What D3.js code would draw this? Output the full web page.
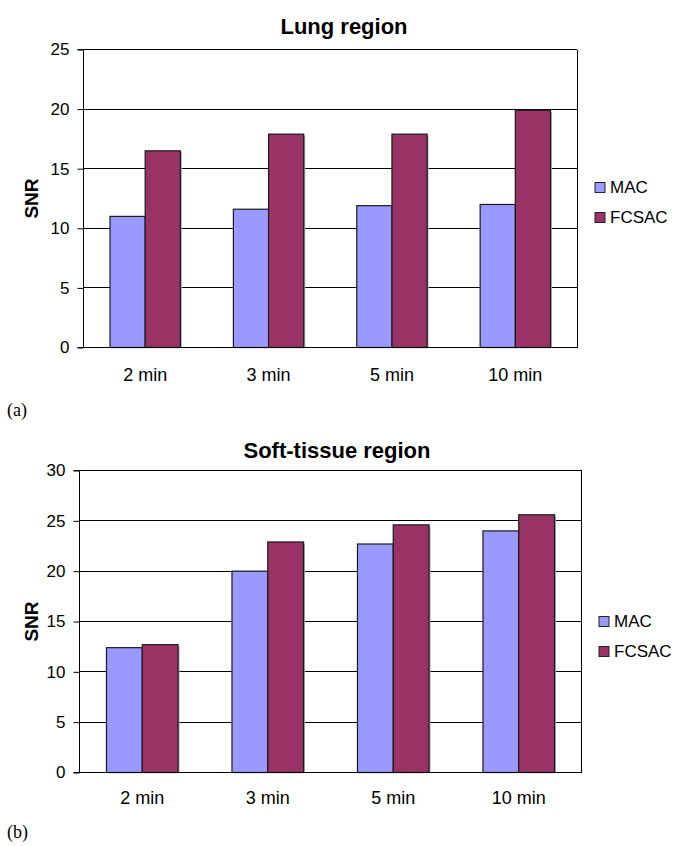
<!DOCTYPE html>
<html>
<head>
<meta charset="utf-8">
<script src="https://cdn.jsdelivr.net/npm/d3@7"></script>
<style>
  html, body { margin: 0; padding: 0; background: #fff; }
  svg { display: block; }
</style>
</head>
<body>
<svg id="chart" width="677" height="846"></svg>
<script>
// ---- data ----
const categories = ["2 min", "3 min", "5 min", "10 min"];
const seriesNames = ["MAC", "FCSAC"];
const lungMAC = [11.0, 11.6, 11.9, 12.0];
const lungFCSAC = [16.5, 17.9, 17.9, 19.9];
const softMAC = [12.4, 20.0, 22.7, 24.0];
const softFCSAC = [12.7, 22.9, 24.6, 25.6];
const lungTicks = [0, 5, 10, 15, 20, 25];
const softTicks = [0, 5, 10, 15, 20, 25, 30];
const titles = ["Lung region", "Soft-tissue region"];
const panelLabels = ["(a)", "(b)"];
const yLabel = "SNR";

const colors = ["#9999FF", "#993366"];
const sans = "'Liberation Sans', Arial, Helvetica, sans-serif";
const serif = "'Liberation Serif', 'Times New Roman', serif";

const svg = d3.select("#chart");

function drawChart(cfg) {
  const { left, right, top, bottom, series, ticks, title, titleX, titleY,
          legendX, legendY, panel, panelY, xLabelDy } = cfg;
  const g = svg.append("g");

  const x = d3.scaleBand().domain(categories).range([left, right])
    .paddingInner(0.43).paddingOuter(0.215);
  const xs = d3.scaleBand().domain(seriesNames).range([0, x.bandwidth()]);
  const y = d3.scaleLinear().domain([ticks[0], ticks[ticks.length - 1]]).range([bottom, top]);

  // gridlines
  g.append("g").selectAll("line").data(ticks.slice(1)).join("line")
    .attr("x1", left).attr("x2", right)
    .attr("y1", d => y(d)).attr("y2", d => y(d))
    .attr("stroke", "#000").attr("stroke-width", 1)
    .attr("shape-rendering", "crispEdges");

  // right border
  g.append("line").attr("x1", right).attr("x2", right).attr("y1", top).attr("y2", bottom)
    .attr("stroke", "#000").attr("shape-rendering", "crispEdges");

  // bars
  const rows = categories.map((c, i) => ({ c, vals: series.map((s, j) => ({ name: seriesNames[j], v: s[i], j })) }));
  const grp = g.append("g").selectAll("g").data(rows).join("g")
    .attr("transform", d => `translate(${x(d.c)},0)`);
  // shadow
  grp.selectAll("rect.sh").data(d => d.vals).join("rect").attr("class", "sh")
    .attr("x", d => xs(d.name) + 1.5).attr("y", d => y(d.v) + 1.5)
    .attr("width", xs.bandwidth()).attr("height", d => bottom - y(d.v) - 1.5)
    .attr("fill", "#aaa");
  grp.selectAll("rect.bar").data(d => d.vals).join("rect").attr("class", "bar")
    .attr("x", d => xs(d.name)).attr("y", d => y(d.v))
    .attr("width", xs.bandwidth()).attr("height", d => bottom - y(d.v))
    .attr("fill", d => colors[d.j]).attr("stroke", "#1a1a1a").attr("stroke-width", 1.2);

  // y axis
  const yAxis = d3.axisLeft(y).tickValues(ticks).tickSize(6).tickPadding(8).tickFormat(d3.format("d"));
  const ya = g.append("g").attr("transform", `translate(${left},0)`).call(yAxis);
  ya.select(".domain").attr("stroke", "#000").attr("d", `M-6,${top}H0V${bottom}H-6`);
  ya.selectAll(".tick line").attr("stroke", "#000");
  ya.selectAll("text").attr("font-family", sans).attr("font-size", 17).attr("fill", "#000");

  // x axis line (bottom)
  g.append("line").attr("x1", left).attr("x2", right).attr("y1", bottom).attr("y2", bottom)
    .attr("stroke", "#000").attr("stroke-width", 1.2);

  // x labels
  g.append("g").selectAll("text").data(categories).join("text")
    .attr("x", d => x(d) + x.bandwidth() / 2).attr("y", bottom + xLabelDy)
    .attr("text-anchor", "middle").attr("font-family", sans).attr("font-size", 18)
    .text(d => d);

  // title
  g.append("text").attr("x", titleX).attr("y", titleY).attr("text-anchor", "middle")
    .attr("font-family", sans).attr("font-size", 22).attr("font-weight", "bold").text(title);

  // y label
  g.append("text").attr("transform", `translate(38,${(top + bottom) / 2}) rotate(-90)`)
    .attr("text-anchor", "middle").attr("font-family", sans).attr("font-size", 19)
    .attr("font-weight", "bold").text(yLabel);

  // legend
  const lg = g.append("g").selectAll("g").data(seriesNames).join("g")
    .attr("transform", (d, i) => `translate(${legendX},${legendY + i * 30})`);
  lg.append("rect").attr("x", 0).attr("y", 0).attr("width", 10).attr("height", 10)
    .attr("fill", (d, i) => colors[i]).attr("stroke", "#222").attr("stroke-width", 1);
  lg.append("text").attr("x", 15).attr("y", 10.5).attr("font-family", sans).attr("font-size", 17)
    .text(d => d);

  // panel label
  svg.append("text").attr("x", 7).attr("y", panelY).attr("font-family", serif).attr("font-size", 18)
    .text(panel);
}

drawChart({
  left: 83.5, right: 577, top: 49.5, bottom: 347.5,
  series: [lungMAC, lungFCSAC], ticks: lungTicks, title: titles[0],
  titleX: 344, titleY: 34, legendX: 595, legendY: 182.5,
  panel: panelLabels[0], panelY: 416, xLabelDy: 33
});
drawChart({
  left: 79.5, right: 581.5, top: 470.5, bottom: 772.5,
  series: [softMAC, softFCSAC], ticks: softTicks, title: titles[1],
  titleX: 337, titleY: 458, legendX: 599, legendY: 616.5,
  panel: panelLabels[1], panelY: 838, xLabelDy: 31.5
});
</script>
</body>
</html>
